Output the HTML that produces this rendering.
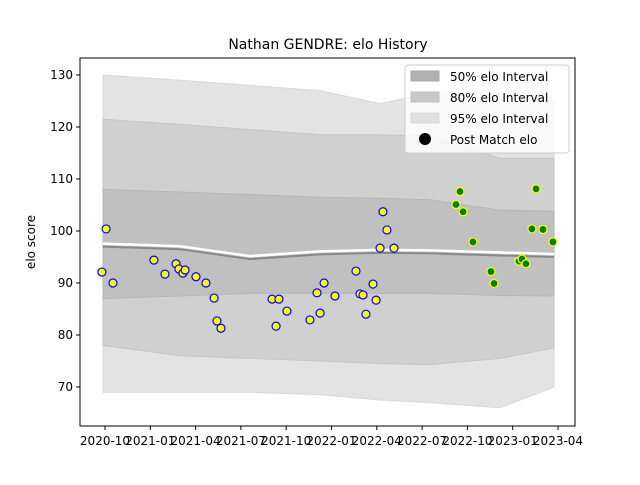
<!DOCTYPE html>
<html><head><meta charset="utf-8"><style>
html,body{margin:0;padding:0;background:#fff;}
svg text{font-family:"DejaVu Sans","Liberation Sans",sans-serif;}
</style></head><body>
<svg id="chart" width="640" height="480" xmlns="http://www.w3.org/2000/svg">
<rect width="640" height="480" fill="#fff"/>
<g id="bands"></g><g id="lines"></g><g id="points"></g><g id="axes"></g>
<text x="328" y="49" text-anchor="middle" font-size="14">Nathan GENDRE: elo History</text>
<text transform="translate(35,242) rotate(-90)" text-anchor="middle" font-size="12">elo score</text>
<g>
<rect x="405" y="65" width="164" height="88" rx="3" fill="#fff" fill-opacity="0.8" stroke="#ccc"/>
<rect x="411" y="71" width="28" height="10" fill="#b0b0b0" stroke="#a8a8a8"/>
<text x="450" y="81" font-size="12">50% elo Interval</text>
<rect x="411" y="92" width="28" height="10" fill="#c8c8c8" stroke="#c0c0c0"/>
<text x="450" y="102" font-size="12">80% elo Interval</text>
<rect x="411" y="113" width="28" height="10" fill="#e0e0e0" stroke="#d8d8d8"/>
<text x="450" y="123" font-size="12">95% elo Interval</text>
<circle cx="425" cy="139" r="6" fill="#000"/>
<text x="450" y="144" font-size="12">Post Match elo</text>
</g>
</svg>
<script>
const bandT = [2020.739, 2021.164, 2021.550, 2021.937, 2022.268, 2022.544, 2022.930, 2023.228];
const upper95 = [130, 129, 128, 127, 124.5, 126.5, 126, 125];
const upper80 = [121.5, 120.5, 119.5, 118.5, 118.5, 118.3, 114, 114];
const upper50 = [108, 107.5, 107, 106.5, 106.3, 106, 104, 103.8];
const meanElo = [97, 96.5, 94.6, 95.5, 95.8, 95.7, 95.3, 95];
const lower50 = [87, 87.5, 88, 88, 88, 88, 87.6, 87.5];
const lower80 = [78, 76, 75.5, 75, 74.5, 74.3, 75.5, 77.5];
const lower95 = [69, 69, 69, 68.5, 67.5, 67, 66, 70];
const blueT = [2020.733,2020.756,2020.794,2021.020,2021.081,2021.142,2021.158,2021.180,2021.192,2021.252,2021.307,2021.352,2021.368,2021.390,2021.672,2021.694,2021.710,2021.754,2021.881,2021.920,2021.937,2021.959,2022.019,2022.135,2022.157,2022.174,2022.190,2022.229,2022.246,2022.268,2022.284,2022.306,2022.345];
const blueElo = [92.1,100.4,90.0,94.4,91.7,93.7,92.7,91.9,92.5,91.2,90.0,87.1,82.7,81.3,86.9,81.7,86.9,84.6,82.9,88.1,84.2,90.0,87.5,92.3,87.9,87.7,84.0,89.8,86.7,96.7,103.7,100.2,96.7];
const greenT = [2022.687,2022.709,2022.726,2022.781,2022.880,2022.897,2023.035,2023.051,2023.073,2023.106,2023.129,2023.167,2023.222];
const greenElo = [105.1,107.6,103.7,97.9,92.2,89.9,94.2,94.6,93.7,100.4,108.1,100.3,97.9];
const yTicks = [70,80,90,100,110,120,130];
const xTickT = [2020.75,2021.0,2021.25,2021.5,2021.75,2022.0,2022.25,2022.5,2022.75,2023.0,2023.25];
const xTickLabels = ["2020-10","2021-01","2021-04","2021-07","2021-10","2022-01","2022-04","2022-07","2022-10","2023-01","2023-04"];

const NS="http://www.w3.org/2000/svg";
const L=80,R=575,T=58,B=426;
const xs=t=>105+(t-2020.75)*181.2;
const ys=v=>75+(130-v)*5.2;
function mk(tag,attrs,parent){const e=document.createElementNS(NS,tag);for(const k in attrs)e.setAttribute(k,attrs[k]);parent.appendChild(e);return e;}
const gb=document.getElementById('bands'),gl=document.getElementById('lines'),gp=document.getElementById('points'),ga=document.getElementById('axes');
function band(up,lo,fill,stroke,name){
  let p=bandT.map((t,i)=>xs(t)+','+ys(up[i]));
  for(let i=bandT.length-1;i>=0;i--)p.push(xs(bandT[i])+','+ys(lo[i]));
  const e=mk('polygon',{points:p.join(' '),fill:fill,stroke:stroke,'stroke-width':1},gb);
  
  
}
band(upper95,lower95,'#e3e3e3','#d8d8d8','band-95');
band(upper80,lower80,'#d0d0d0','#c6c6c6','band-80');
band(upper50,lower50,'#c0c0c0','#b6b6b6','band-50');
const wl=mk('polyline',{points:bandT.map((t,i)=>xs(t)+','+(ys(meanElo[i])-3)).join(' '),fill:'none',stroke:'#fff','stroke-width':2.5},gl);


const ml=mk('polyline',{points:bandT.map((t,i)=>xs(t)+','+ys(meanElo[i])).join(' '),fill:'none',stroke:'#888','stroke-width':2},gl);


blueT.forEach((t,i)=>{const c=mk('circle',{cx:xs(t),cy:ys(blueElo[i]),r:4,fill:'#ffff00',stroke:'#0000ff','stroke-width':1.2},gp);

});
greenT.forEach((t,i)=>{const c=mk('circle',{cx:xs(t),cy:ys(greenElo[i]),r:4,fill:'#008000',stroke:'#ffff00','stroke-width':1.2},gp);

});
const fr=mk('rect',{x:L,y:T,width:R-L,height:B-T,fill:'none',stroke:'#000','stroke-width':1},ga);


yTicks.forEach(v=>{const y=ys(v);mk('line',{x1:L-4,x2:L,y1:y,y2:y,stroke:'#000'},ga);
const tx=mk('text',{x:L-7,y:y+4,'text-anchor':'end','font-size':12},ga);tx.textContent=v;

});
xTickT.forEach((t,i)=>{const x=xs(t);mk('line',{x1:x,x2:x,y1:B,y2:B+4,stroke:'#000'},ga);
const tx=mk('text',{x:x,y:B+19,'text-anchor':'middle','font-size':12},ga);tx.textContent=xTickLabels[i];

});
</script>
</body></html>
